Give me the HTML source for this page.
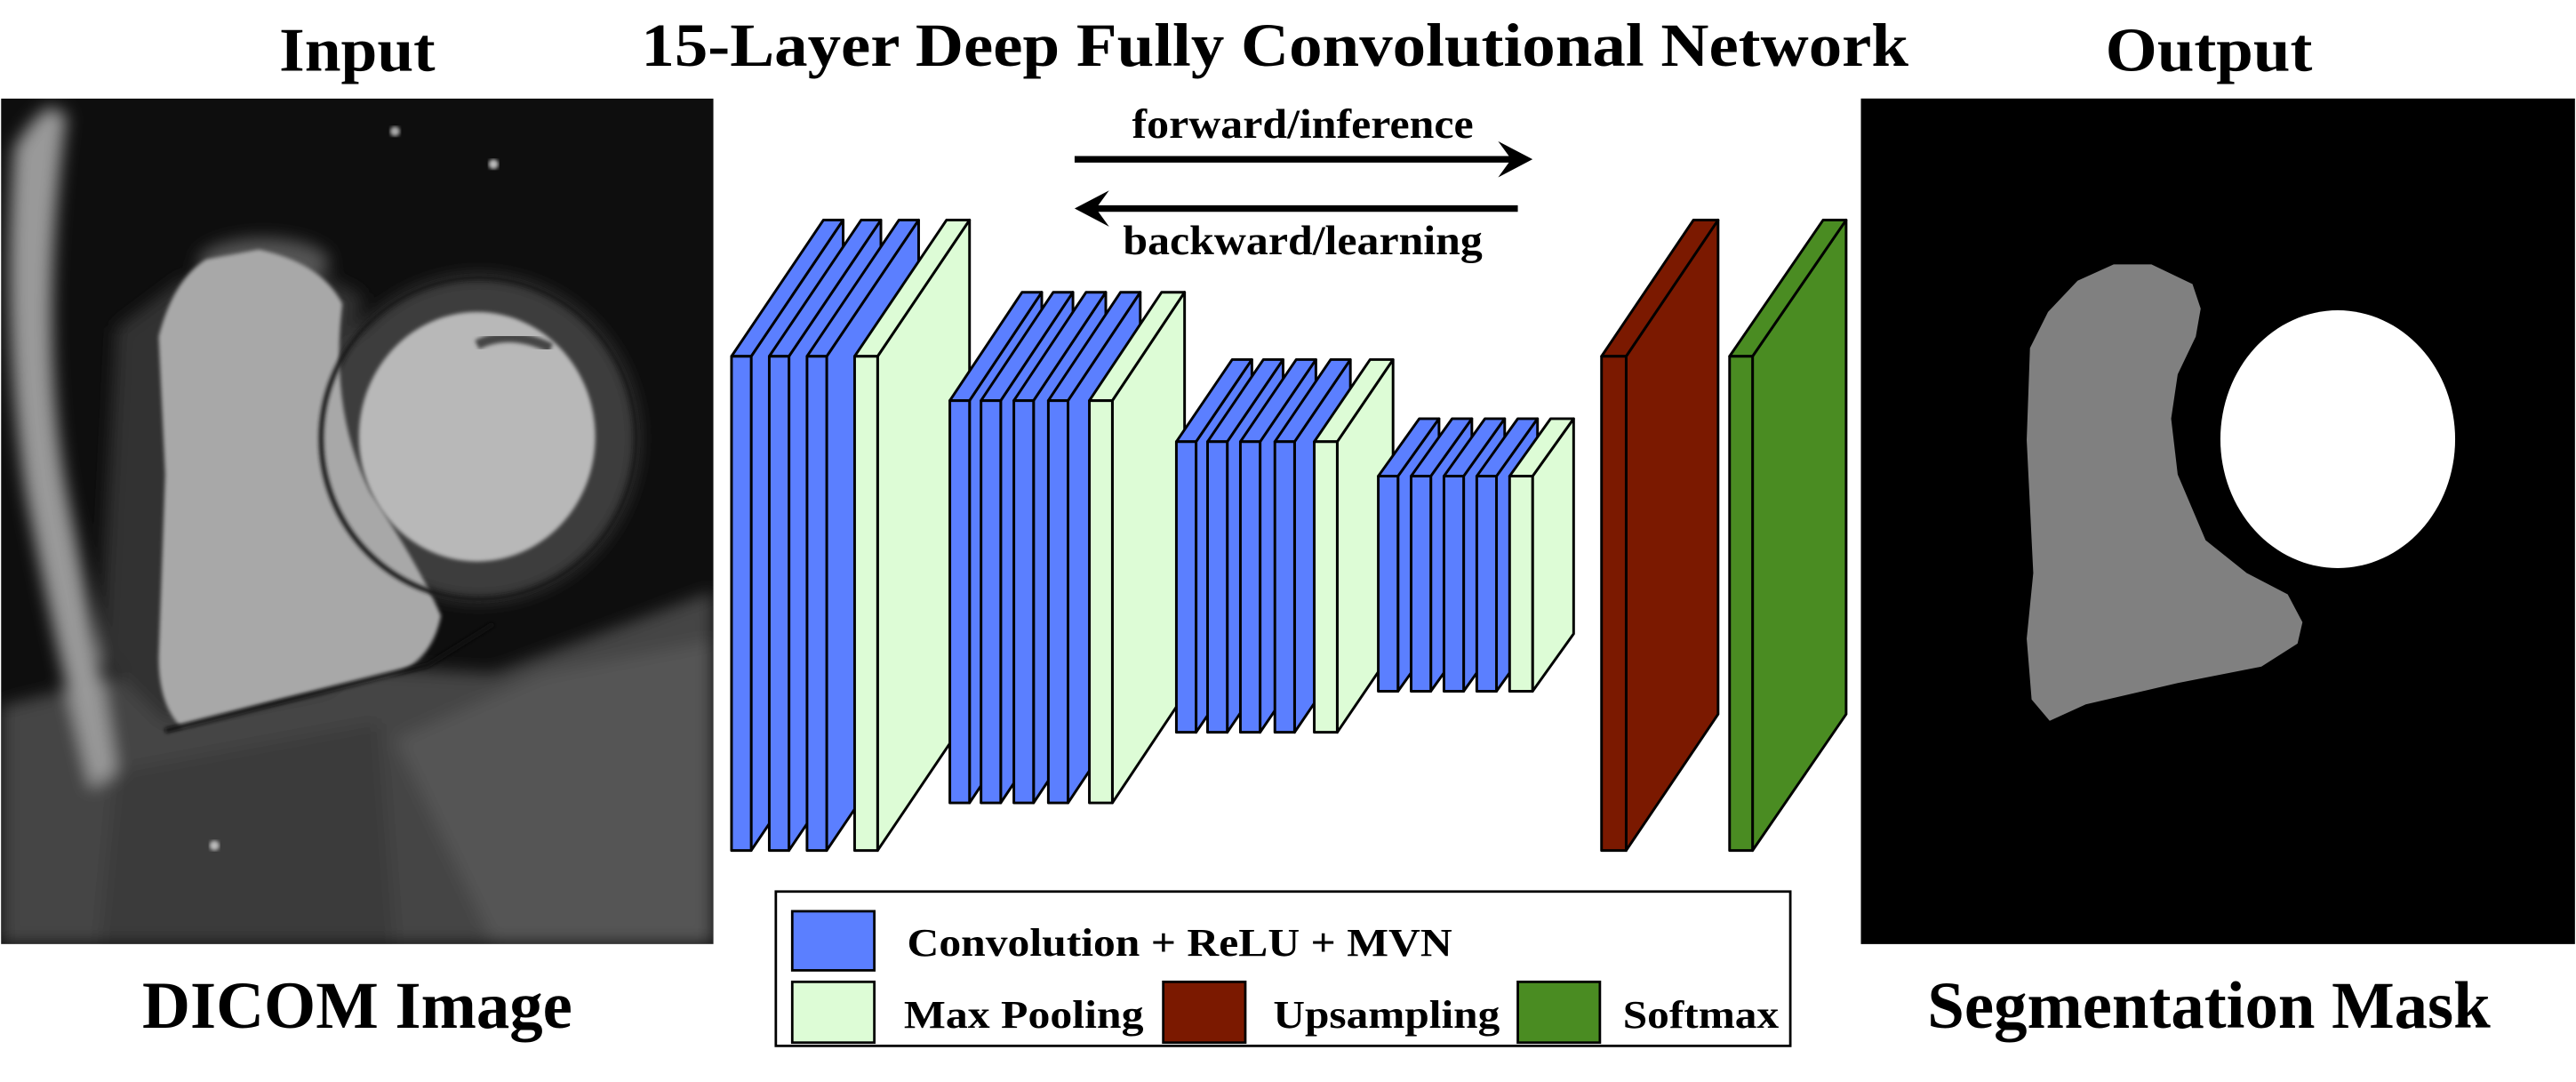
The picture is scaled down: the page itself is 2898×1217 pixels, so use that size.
<!DOCTYPE html>
<html><head><meta charset="utf-8"><style>
html,body{margin:0;padding:0;background:#fff;}
svg{display:block;}
text{font-family:"Liberation Serif",serif;font-weight:bold;fill:#000;}
</style></head><body>
<svg width="2898" height="1217" viewBox="0 0 1568 659" xmlns="http://www.w3.org/2000/svg">
<defs>
<filter id="bl" x="-10%" y="-10%" width="120%" height="120%"><feGaussianBlur stdDeviation="5"/></filter>
<filter id="bl2"><feGaussianBlur stdDeviation="1.2"/></filter>
<clipPath id="mri"><rect x="0" y="60" width="434" height="515"/></clipPath>
</defs>
<rect width="1568" height="659" fill="#fff"/>
<!-- titles -->
<text x="217" y="43" font-size="38" text-anchor="middle" textLength="95" lengthAdjust="spacingAndGlyphs">Input</text>
<text x="776" y="40" font-size="37" text-anchor="middle" textLength="772" lengthAdjust="spacingAndGlyphs">15-Layer Deep Fully Convolutional Network</text>
<text x="1345" y="43" font-size="38" text-anchor="middle" textLength="126" lengthAdjust="spacingAndGlyphs">Output</text>
<text x="217" y="626" font-size="41" text-anchor="middle" textLength="262" lengthAdjust="spacingAndGlyphs">DICOM Image</text>
<text x="1345" y="626" font-size="41" text-anchor="middle" textLength="343" lengthAdjust="spacingAndGlyphs">Segmentation Mask</text>

<!-- MRI -->
<g clip-path="url(#mri)">
<rect x="0" y="60" width="434" height="515" fill="#0e0e0e"/>
<g filter="url(#bl)">
<path d="M0 430 L120 400 L300 410 L434 360 L434 575 L0 575 Z" fill="#444"/>
<path d="M240 450 L330 410 L434 390 L434 575 L300 575 Z" fill="#555"/>
<path d="M70 470 L230 440 L240 575 L60 575 Z" fill="#3a3a3a"/>
<path d="M70 200 L110 170 L180 160 L220 180 L200 300 L250 360 L200 420 L100 440 L60 400 Z" fill="#333"/>
<path d="M8 90 Q20 70 30 65 L40 70 Q22 200 40 300 Q60 400 70 470 L55 480 Q30 380 15 300 Q0 200 8 90 Z" fill="#999"/>
<ellipse cx="291" cy="267" rx="97" ry="99" fill="#3e3e3e"/>
<ellipse cx="160" cy="160" rx="40" ry="15" fill="#555"/>
</g>
<path d="M96 205 Q105 170 125 158 L157 152 Q195 160 208 185 Q200 250 225 300 Q255 345 268 375 Q262 405 235 412 L169 427 L110 443 Q96 430 96 400 L100 289 Z" fill="#a8a8a8" filter="url(#bl2)"/>
<ellipse cx="291" cy="267" rx="96" ry="98" fill="none" stroke="#1a1a1a" stroke-width="3" filter="url(#bl2)"/>
<ellipse cx="290" cy="266" rx="72" ry="76" fill="#b8b8b8" filter="url(#bl2)"/>
<path d="M290 210 Q310 200 335 212" stroke="#444" stroke-width="6" fill="none" filter="url(#bl2)"/>
<path d="M100 445 Q180 425 260 405 L300 380" stroke="#111" stroke-width="3" fill="none" filter="url(#bl2)"/>
<circle cx="240" cy="80" r="3" fill="#aaa" filter="url(#bl2)"/>
<circle cx="300" cy="100" r="3" fill="#bbb" filter="url(#bl2)"/>
<circle cx="130" cy="515" r="3" fill="#bbb" filter="url(#bl2)"/>
</g>

<!-- Mask -->
<rect x="1133" y="60" width="435" height="515" fill="#000"/>
<path d="M1287 161 L1310 161 L1335 173 L1340 188 L1337 205 L1326 228 L1322 255 L1326 289 L1343 329 L1368 349 L1393 362 L1402 379 L1399 392 L1377 406 L1326 416 L1270 429 L1248 439 L1237 426 L1234 389 L1238 349 L1234 268 L1236 212 L1247 190 L1265 171 Z" fill="#808080"/>
<ellipse cx="1423.5" cy="267.5" rx="71.5" ry="78.5" fill="#fff"/>

<!-- arrows -->
<text x="793" y="84" font-size="25" text-anchor="middle" textLength="208" lengthAdjust="spacingAndGlyphs">forward/inference</text>
<line x1="654" y1="97" x2="925" y2="97" stroke="#000" stroke-width="4"/>
<path d="M933 97 L912 86 L920 97 L912 108 Z" fill="#000"/>
<line x1="662" y1="127" x2="924" y2="127" stroke="#000" stroke-width="4"/>
<path d="M654 127 L675 116 L667 127 L675 138 Z" fill="#000"/>
<text x="793" y="155" font-size="25" text-anchor="middle" textLength="219" lengthAdjust="spacingAndGlyphs">backward/learning</text>

<g stroke="#000" stroke-width="1.6" stroke-linejoin="round" id="net"></g>

<!-- legend -->
<rect x="472" y="543" width="618" height="94" fill="#fff" stroke="#000" stroke-width="1.5"/>
<rect x="482" y="555" width="50" height="36" fill="#5b7fff" stroke="#000" stroke-width="1.5"/>
<text x="552" y="582" font-size="24" textLength="332" lengthAdjust="spacingAndGlyphs">Convolution + ReLU + MVN</text>
<rect x="482" y="598" width="50" height="37" fill="#ddfcd6" stroke="#000" stroke-width="1.5"/>
<text x="550" y="626" font-size="24" textLength="146" lengthAdjust="spacingAndGlyphs">Max Pooling</text>
<rect x="708" y="598" width="50" height="37" fill="#7b1900" stroke="#000" stroke-width="1.5"/>
<text x="775" y="626" font-size="24" textLength="138" lengthAdjust="spacingAndGlyphs">Upsampling</text>
<rect x="924" y="598" width="50" height="37" fill="#4a8c22" stroke="#000" stroke-width="1.5"/>
<text x="988" y="626" font-size="24" textLength="95" lengthAdjust="spacingAndGlyphs">Softmax</text>
</svg>
<script>
(function(){
var g=document.getElementById('net'),ns='http://www.w3.org/2000/svg';
var B='#5b7fff',G='#ddfcd6';
function slab(x,w,t,b,dx,dy,c){
 function p(d,f){var e=document.createElementNS(ns,'path');e.setAttribute('d',d);e.setAttribute('fill',f);g.appendChild(e);}
 p('M'+(x+w)+' '+t+' L'+(x+w+dx)+' '+(t+dy)+' L'+(x+w+dx)+' '+(b+dy)+' L'+(x+w)+' '+b+' Z',c);
 p('M'+x+' '+t+' L'+(x+dx)+' '+(t+dy)+' L'+(x+w+dx)+' '+(t+dy)+' L'+(x+w)+' '+t+' Z',c);
 p('M'+x+' '+t+' L'+(x+w)+' '+t+' L'+(x+w)+' '+b+' L'+x+' '+b+' Z',c);
}
var blocks=[
 {t:217,b:518,dx:56,dy:-83,s:[[445,B],[468,B],[491,B],[520,G]]},
 {t:244,b:489,dx:44,dy:-66,s:[[578,B],[597,B],[617,B],[638,B],[663,G]]},
 {t:269,b:446,dx:34,dy:-50,s:[[716,B],[735,B],[755,B],[776,B],[800,G]]},
 {t:290,b:421,dx:25,dy:-35,s:[[839,B],[859,B],[879,B],[899,B],[919,G]]}
];
blocks.forEach(function(k){k.s.forEach(function(s){slab(s[0],s[1]==G?14:12,k.t,k.b,k.dx,k.dy,s[1]);});});
slab(975,15,217,518,56,-83,'#7b1900');
slab(1053,14,217,518,57,-83,'#4a8c22');
})();
</script>
</body></html>
